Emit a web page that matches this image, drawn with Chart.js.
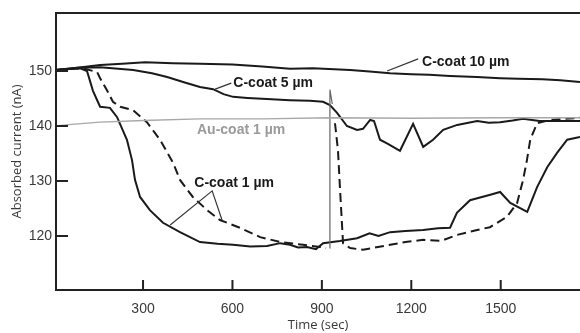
<!DOCTYPE html>
<html>
<head>
<meta charset="utf-8">
<script src="https://cdn.jsdelivr.net/npm/chart.js@4.4.1/dist/chart.umd.min.js"></script>
<style>
  html, body { margin: 0; padding: 0; background: #fff; }
  #wrap { width: 580px; height: 333px; position: relative; }
</style>
</head>
<body>
<div id="wrap"><canvas id="myChart"></canvas></div>
<script>
// values (time in sec, current in nA)
const xTicks = [300, 600, 900, 1200, 1500];
const yTicks = [120, 130, 140, 150];

const time10 = [8, 80, 156, 230, 307, 400, 491, 600, 700, 793, 870, 995, 1060, 1129, 1200, 1260, 1330, 1420, 1498, 1560, 1640, 1700, 1766];
const cur10  = [150.2, 150.6, 151.1, 151.3, 151.6, 151.4, 151.3, 151.2, 150.8, 150.4, 150.5, 150.2, 149.9, 149.6, 149.4, 149.3, 149.1, 148.9, 148.7, 148.6, 148.5, 148.3, 148.0];

const time5 = [8, 80, 156, 267, 330, 381, 440, 491, 535, 570, 602, 650, 716, 793, 860, 904, 927, 951, 984, 1018, 1038, 1062, 1075, 1095, 1120, 1139, 1162, 1206, 1240, 1273, 1307, 1354, 1421, 1460, 1498, 1540, 1575, 1630, 1689, 1766];
const cur5  = [150.2, 150.6, 150.7, 150.2, 149.6, 148.9, 147.9, 147.1, 146.7, 145.8, 145.3, 145.1, 144.9, 144.7, 144.6, 144.4, 143.8, 142.4, 140.0, 139.3, 139.5, 141.1, 140.9, 137.5, 136.8, 136.2, 135.5, 140.4, 136.2, 137.5, 139.3, 140.2, 140.9, 140.6, 140.7, 141.0, 141.3, 140.9, 140.9, 140.9];

const timeAu = [8, 60, 156, 300, 491, 700, 927, 1200, 1500, 1766];
const curAu  = [140.0, 140.3, 140.7, 141.0, 141.3, 141.3, 141.5, 141.4, 141.5, 141.5];

const time1s = [8, 89, 112, 132, 156, 189, 213, 246, 263, 273, 290, 323, 367, 424, 491, 550, 602, 660, 716, 760, 793, 820, 850, 880, 904, 960, 1018, 1060, 1090, 1129, 1180, 1240, 1290, 1330, 1353, 1397, 1465, 1498, 1532, 1589, 1622, 1656, 1689, 1723, 1766];
const cur1s  = [150.2, 150.5, 150.0, 146.4, 143.5, 143.3, 141.6, 137.5, 133.8, 130.2, 127.1, 124.7, 122.4, 120.7, 118.9, 118.6, 118.4, 118.1, 118.2, 118.7, 118.4, 117.9, 118.0, 117.6, 118.7, 119.1, 119.6, 120.5, 120.0, 120.7, 120.9, 121.1, 121.4, 121.5, 124.2, 126.5, 127.5, 128.0, 126.0, 124.4, 128.9, 132.5, 135.1, 137.5, 138.0];

const time1d = [8, 99, 146, 156, 179, 199, 223, 266, 313, 357, 401, 424, 467, 515, 558, 625, 693, 760, 837, 894, 914, 927, 944, 954, 961, 971, 995, 1038, 1129, 1180, 1240, 1300, 1354, 1421, 1464, 1521, 1555, 1575, 1588, 1599, 1622, 1666, 1766];
const cur1d  = [150.2, 150.5, 149.8, 148.7, 146.5, 144.4, 143.5, 142.9, 140.7, 137.5, 133.3, 130.2, 127.1, 124.7, 122.9, 121.5, 119.8, 118.9, 118.4, 118.0, 117.8, null, 140.5, 135.6, 128.4, 118.7, 117.8, 117.5, 118.4, 118.9, 119.3, 119.1, 120.2, 121.1, 121.6, 123.5, 126.0, 130.2, 133.8, 137.5, 140.5, 141.1, 141.5];

const spikeTime = [926, 927, 935];
const spikeCur  = [117.8, 146.6, 144.0];

function pts(xs, ys) {
  return xs.map((x, i) => ({ x: x, y: ys[i] }));
}

// text labels placed in data coordinates
const labels = [
  { text: 'C-coat 10 \u00b5m', x: 1236, y: 151.6, color: '#1a1a1a', lead: [[1223, 152.2], [1119, 150.0]] },
  { text: 'C-coat 5 \u00b5m', x: 603, y: 147.8, color: '#1a1a1a', lead: [[596, 147.8], [542, 146.7]] },
  { text: 'Au-coat 1 \u00b5m', x: 481, y: 139.3, color: '#9a9a9a', lead: null },
  { text: 'C-coat 1 \u00b5m', x: 472, y: 129.6, color: '#1a1a1a', lead: [[391, 122.0], [532, 128.2], [565, 122.9]] }
];

const decor = {
  id: 'decor',
  afterDraw(chart) {
    const ctx = chart.ctx;
    const a = chart.chartArea;
    const xs = chart.scales.x, ys = chart.scales.y;
    ctx.save();
    ctx.strokeStyle = '#222';
    ctx.lineWidth = 2;
    ctx.beginPath();
    ctx.moveTo(a.left - 1, a.top);
    ctx.lineTo(a.right, a.top);
    yTicks.forEach(v => {
      const py = ys.getPixelForValue(v);
      ctx.moveTo(a.left, py);
      ctx.lineTo(a.left + 12, py);
    });
    xTicks.forEach(v => {
      const px = xs.getPixelForValue(v);
      ctx.moveTo(px, a.bottom);
      ctx.lineTo(px, a.bottom - 10);
    });
    ctx.stroke();

    labels.forEach(l => {
      ctx.font = 'bold 14px "Liberation Sans", Arial, sans-serif';
      ctx.fillStyle = l.color;
      ctx.textBaseline = 'middle';
      ctx.fillText(l.text, xs.getPixelForValue(l.x), ys.getPixelForValue(l.y));
      if (l.lead) {
        ctx.strokeStyle = '#333';
        ctx.lineWidth = 1.2;
        ctx.beginPath();
        l.lead.forEach((p, i) => {
          const px = xs.getPixelForValue(p[0]), py = ys.getPixelForValue(p[1]);
          if (i === 0) ctx.moveTo(px, py); else ctx.lineTo(px, py);
        });
        ctx.stroke();
      }
    });
    ctx.restore();
  }
};

const tickFont = { family: '"Liberation Sans Narrow", "Liberation Sans", sans-serif', size: 14 };
const titleFont = { family: '"Open Sans", sans-serif', size: 13 };

const ctx = document.getElementById('myChart');
new Chart(ctx, {
  type: 'line',
  data: {
    datasets: [
      { data: pts(timeAu, curAu), borderColor: '#a8a8a8', borderWidth: 1.4 },
      { data: pts(spikeTime, spikeCur), borderColor: '#666', borderWidth: 1.2 },
      { data: pts(time10, cur10), borderColor: '#1a1a1a', borderWidth: 2 },
      { data: pts(time5, cur5), borderColor: '#1a1a1a', borderWidth: 2 },
      { data: pts(time1s, cur1s), borderColor: '#1a1a1a', borderWidth: 2 },
      { data: pts(time1d, cur1d), borderColor: '#1a1a1a', borderWidth: 2, borderDash: [9, 5] }
    ]
  },
  options: {
    responsive: true,
    maintainAspectRatio: false,
    animation: false,
    layout: { padding: { top: 13, left: 0, right: 0, bottom: 0 } },
    elements: { point: { radius: 0 }, line: { tension: 0 } },
    plugins: { legend: { display: false }, tooltip: { enabled: false } },
    scales: {
      x: {
        type: 'linear',
        min: 8,
        max: 1766,
        afterBuildTicks: s => { s.ticks = xTicks.map(v => ({ value: v })); },
        afterFit: s => { s.height = 43; },
        grid: { drawOnChartArea: false, drawTicks: false },
        border: { color: '#222', width: 2 },
        ticks: { padding: 11, color: '#3a3a3a', font: tickFont, callback: v => String(v) },
        title: { display: true, text: 'Time (sec)', color: '#3a3a3a', padding: { top: 0, bottom: 0 }, font: titleFont }
      },
      y: {
        min: 110.18,
        max: 160.55,
        afterBuildTicks: s => { s.ticks = yTicks.map(v => ({ value: v })); },
        afterFit: s => { s.width = 56; },
        grid: { drawOnChartArea: false, drawTicks: false },
        border: { color: '#222', width: 2 },
        ticks: { padding: 4, color: '#3a3a3a', font: tickFont, callback: v => String(v) },
        title: { display: true, text: 'Absorbed current (nA)', color: '#3a3a3a', padding: { top: 9, bottom: 0 }, font: titleFont }
      }
    }
  },
  plugins: [decor]
});
</script>
</body>
</html>
